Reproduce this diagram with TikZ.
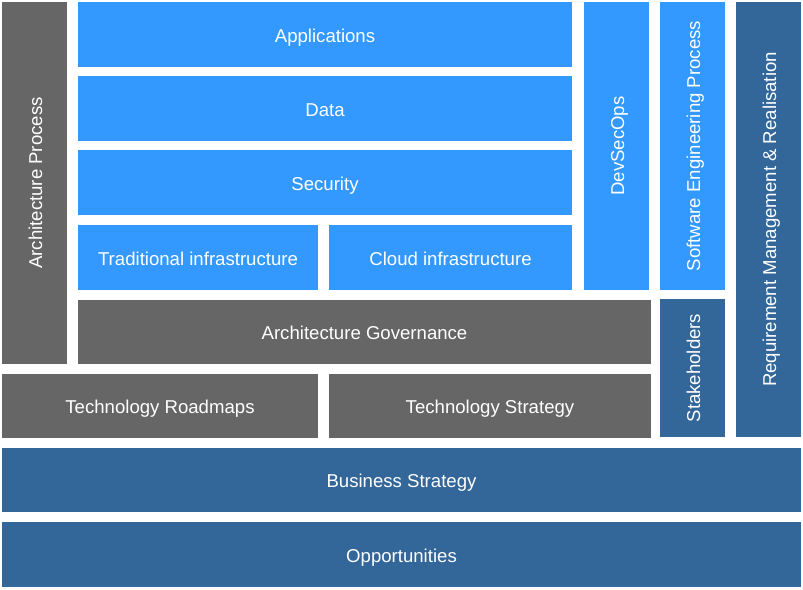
\documentclass[tikz,border=0pt]{standalone}
\usepackage{fontspec}
\setmainfont{Liberation Sans}
\definecolor{skyblue}{HTML}{3399FF}
\definecolor{slategrey}{HTML}{666666}
\definecolor{navyblue}{HTML}{336699}
\begin{document}
\begin{tikzpicture}[x=1pt, y=-1pt, every node/.style={font=\fontsize{18.6}{21}\selectfont, text=white}]
  \tikzset{tile/.style={inner sep=0pt, outer sep=0pt, minimum height=65pt, text height=15pt, text depth=0pt}, bluetile/.style={tile, fill=skyblue}, greytile/.style={tile, fill=slategrey}, navytile/.style={tile, fill=navyblue}, upright/.style={rotate=90}}
  \useasboundingbox (0,0) rectangle (803,589);

  % technology stack: the four blue layers
  \node[bluetile, minimum width=494pt] (app) at (325,34.5) {Applications};
  \node[bluetile, minimum width=494pt] (data) at (325,108.5) {Data};
  \node[bluetile, minimum width=494pt] (sec) at (325,182.5) {Security};
  \node[bluetile, minimum width=240pt] (trad) at (198,257.5) {Traditional infrastructure};
  \node[bluetile, minimum width=243pt] (cloud) at (450.5,257.5) {Cloud infrastructure};

  % vertical columns, text turned upwards
  \node[greytile, upright, minimum width=362pt] (archproc) at (34.5,183) {Architecture Process};
  \node[bluetile, upright, minimum width=288pt] (devsecops) at (616.5,146) {DevSecOps};
  \node[bluetile, upright, minimum width=288pt] (sweng) at (692.5,146) {Software Engineering Process};
  \node[navytile, upright, minimum width=435pt] (req) at (768.5,219.5) {Requirement Management \& Realisation};
  \node[navytile, upright, minimum width=138pt] (stake) at (692.5,368) {Stakeholders};

  % governance and technology rows
  \node[greytile, minimum width=573pt, minimum height=64pt] (gov) at (364.5,332) {Architecture Governance};
  \node[greytile, minimum width=316pt, minimum height=64pt] (roadmaps) at (160,406) {Technology Roadmaps};
  \node[greytile, minimum width=322pt, minimum height=64pt] (techstrat) at (490,406) {Technology Strategy};

  % business foundation
  \node[navytile, minimum width=799pt, minimum height=64pt] (biz) at (401.5,480) {Business Strategy};
  \node[navytile, minimum width=799pt] (opp) at (401.5,554.5) {Opportunities};
\end{tikzpicture}
\end{document}
